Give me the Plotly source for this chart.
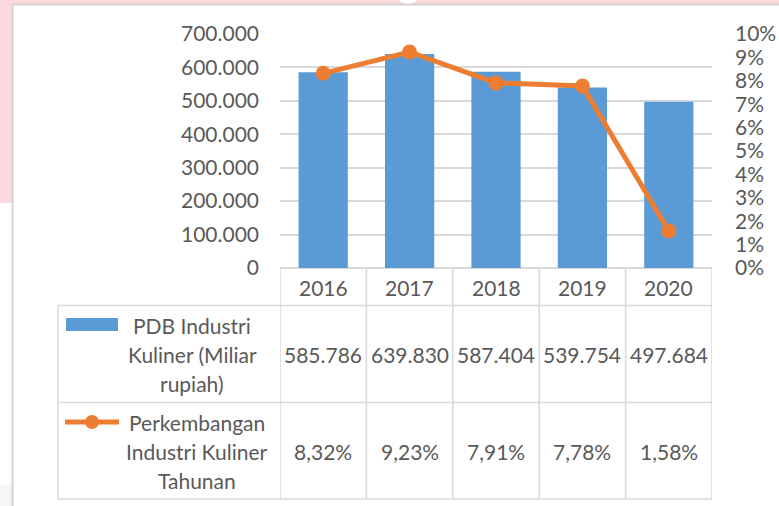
import plotly.graph_objects as go

years = ["2016", "2017", "2018", "2019", "2020"]
pdb_values = [585786, 639830, 587404, 539754, 497684]          # Miliar rupiah
growth_pct = [8.32, 9.23, 7.91, 7.78, 1.58]                     # percent
left_ticks = [0, 100000, 200000, 300000, 400000, 500000, 600000, 700000]
right_ticks = [i / 100 for i in range(0, 11)]
series1_label = ["PDB Industri", "Kuliner (Miliar", "rupiah)"]
series2_label = ["Perkembangan", "Industri Kuliner", "Tahunan"]

W, H = 779, 506
BLUE = "#5b9bd5"
ORANGE = "#ed7d31"
TXT = "#595959"
GRID = "#d9d9d9"
FONT = "Lato"


def px(x):
    return x / W


def py(y):
    return 1 - y / H


xs = list(range(len(years)))

fig = go.Figure()
fig.add_trace(go.Bar(
    x=xs, y=pdb_values, marker=dict(color=BLUE, line=dict(width=0)),
    width=0.57, yaxis="y", hoverinfo="skip"))
fig.add_trace(go.Scatter(
    x=xs, y=[g / 100 for g in growth_pct], yaxis="y2", mode="lines+markers",
    line=dict(color=ORANGE, width=5), marker=dict(color=ORANGE, size=15),
    hoverinfo="skip"))

shapes = []
# background: pink outer strips, white chart area with grey border
shapes.append(dict(type="rect", xref="paper", yref="paper", x0=0, x1=1, y0=py(4), y1=1,
                   fillcolor="#fcd9dc", line=dict(width=0), layer="below"))
shapes.append(dict(type="rect", xref="paper", yref="paper", x0=0, x1=px(12), y0=py(203), y1=1,
                   fillcolor="#fcd9dc", line=dict(width=0), layer="below"))
shapes.append(dict(type="rect", xref="paper", yref="paper", x0=0, x1=px(12), y0=0, y1=py(485),
                   fillcolor="#f6f6f6", line=dict(width=0), layer="below"))
shapes.append(dict(type="path", xref="paper", yref="paper",
                   path=f"M {px(398)} {py(0)} L {px(418)} {py(0)} L {px(408)} {py(5)} Z",
                   fillcolor="white", line=dict(width=0), layer="below"))
shapes.append(dict(type="line", xref="paper", yref="paper", x0=px(12), x1=1, y0=py(4.5), y1=py(4.5),
                   line=dict(color="#d4d4d4", width=2)))
shapes.append(dict(type="line", xref="paper", yref="paper", x0=px(12.5), x1=px(12.5), y0=0, y1=py(4),
                   line=dict(color="#d4d4d4", width=2)))

# data table grid
n = len(years)
for yy in [305.5, 402.5, 499]:
    shapes.append(dict(type="line", xref="paper", yref="paper", x0=px(58), x1=px(712),
                       y0=py(yy), y1=py(yy), line=dict(color=GRID, width=1.5)))
shapes.append(dict(type="line", xref="paper", yref="paper", x0=px(58), x1=px(58),
                   y0=py(305.5), y1=py(499), line=dict(color=GRID, width=1.5)))
for i in range(n + 1):
    shapes.append(dict(type="line", xref="x", yref="paper", x0=i - 0.5, x1=i - 0.5,
                       y0=py(268), y1=py(499), line=dict(color=GRID, width=1.5)))

# legend keys inside the table
shapes.append(dict(type="rect", xref="paper", yref="paper", x0=px(66), x1=px(118),
                   y0=py(331), y1=py(318), fillcolor=BLUE, line=dict(width=0)))
shapes.append(dict(type="line", xref="paper", yref="paper", x0=px(65), x1=px(119),
                   y0=py(422), y1=py(422), line=dict(color=ORANGE, width=5)))
shapes.append(dict(type="circle", xref="paper", yref="paper", x0=px(85), x1=px(99),
                   y0=py(429), y1=py(415), fillcolor=ORANGE, line=dict(width=0)))

annotations = []
font = dict(family=FONT, size=21, color=TXT)
for i, yr in enumerate(years):
    annotations.append(dict(x=i, y=py(287), xref="x", yref="paper", text=yr,
                            showarrow=False, font=font, xanchor="center", yanchor="middle"))
    annotations.append(dict(x=i, y=py(354), xref="x", yref="paper",
                            text=f"{pdb_values[i]:,}".replace(",", "."),
                            showarrow=False, font=font, xanchor="center", yanchor="middle"))
    annotations.append(dict(x=i, y=py(451), xref="x", yref="paper",
                            text=f"{growth_pct[i]:.2f}%".replace(".", ","),
                            showarrow=False, font=font, xanchor="center", yanchor="middle"))
for k, line_txt in enumerate(series1_label):
    annotations.append(dict(x=px(192), y=py(325 + 29 * k), xref="paper", yref="paper",
                            text=line_txt, showarrow=False, font=font,
                            xanchor="center", yanchor="middle"))
for k, line_txt in enumerate(series2_label):
    annotations.append(dict(x=px(197), y=py(422 + 29 * k), xref="paper", yref="paper",
                            text=line_txt, showarrow=False, font=font,
                            xanchor="center", yanchor="middle"))

fig.update_layout(
    width=W, height=H,
    margin=dict(l=0, r=0, t=0, b=0, pad=0),
    paper_bgcolor="white", plot_bgcolor="rgba(0,0,0,0)",
    separators=",.",
    showlegend=False,
    font=dict(family=FONT, size=21, color=TXT),
    xaxis=dict(domain=[px(280), px(712)], range=[-0.5, n - 0.5], showticklabels=False,
               showgrid=False, zeroline=False, showline=False, fixedrange=True,
               automargin=False),
    yaxis=dict(domain=[py(268), py(34)], range=[0, 700000], tickvals=left_ticks,
               tickformat=",.0f", showgrid=True, gridcolor=GRID, gridwidth=1.5,
               zeroline=True, zerolinecolor=GRID, zerolinewidth=1.5,
               showline=False, ticks="", ticklabelstandoff=20, automargin=False,
               tickfont=dict(family=FONT, size=21, color=TXT)),
    yaxis2=dict(overlaying="y", side="right", range=[0, 0.10], tickvals=right_ticks,
                tickformat=".0%", showgrid=False, zeroline=False, showline=False,
                ticks="", ticklabelstandoff=22, automargin=False,
                tickfont=dict(family=FONT, size=21, color=TXT)),
    shapes=shapes,
    annotations=annotations,
)

fig.write_html("out.html", config={"displayModeBar": False},
               post_script="document.body.style.margin='0';")
